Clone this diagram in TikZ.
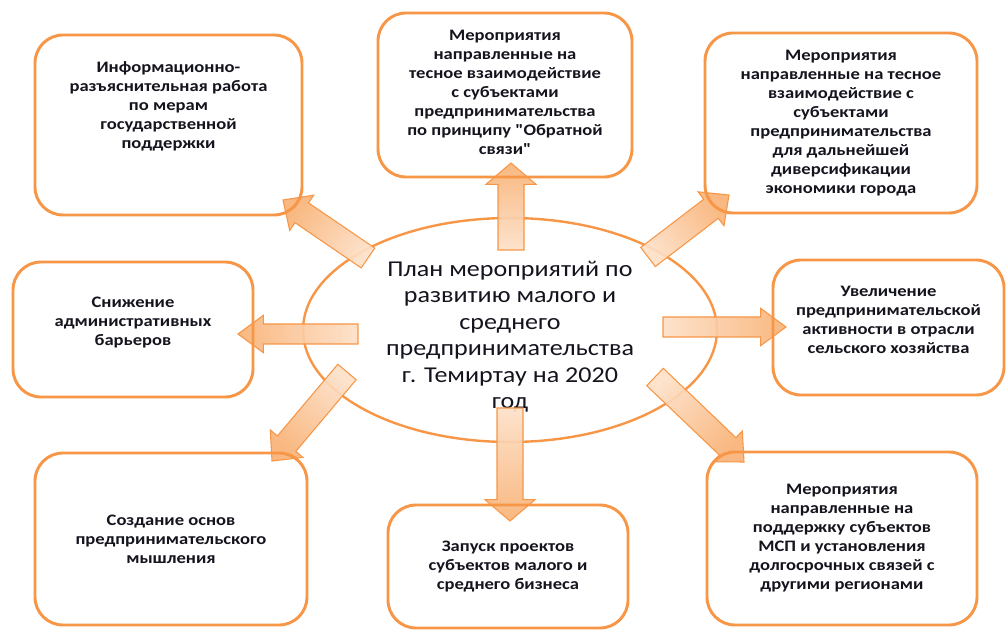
\documentclass[tikz,border=0pt]{standalone}
\usepackage{fontspec}
\setmainfont{Carlito}
\newfontfamily\boxfont{Carlito}[FakeStretch=1.16]
\newfontfamily\planfont{Carlito}[FakeStretch=1.15]
\usetikzlibrary{calc,shapes.geometric}

\definecolor{planOrange}{RGB}{247,150,70}
\definecolor{arrowHead}{RGB}{249,178,118}
\definecolor{arrowTail}{RGB}{253,224,200}
\definecolor{textDark}{RGB}{20,20,30}

\begin{document}
\begin{tikzpicture}[
        % координаты в пикселях, ось y вниз
        x=0.75pt, y=-0.75pt,
        box/.style={draw=planOrange, line width=2.2pt, rounded corners=21pt, inner sep=0pt},
        boxText/.style={align=center, text=textDark, font={\boxfont\bfseries\fontsize{12}{14.25}\selectfont}},
        plan/.style={ellipse, draw=planOrange, line width=1.8pt, inner sep=0pt},
        planText/.style={align=center, text=textDark, font={\planfont\fontsize{17}{19.9}\selectfont}},
        blockArrow/.style={draw=planOrange, line width=0.8pt, top color=arrowHead, bottom color=arrowTail, fill opacity=0.92}
    ]

        % --- параметры ---
        \def\px{0.75pt}
        % стрелка-блок: полуширина стержня, полуширина головки, длина головки, откуда, куда
        \def\blockArrowDraw#1#2#3#4#5{%
            \path let \p1=($(#5)-(#4)$), \n1={atan2(\y1,\x1)-90} in \pgfextra{\xdef\arrAngle{\n1}};
            \coordinate (hb) at ($(#5)!#3!(#4)$);
            \draw[blockArrow, shading angle=\arrAngle]
                ($(#4)!#1!90:(#5)$) -- ($(hb)!#1!90:(#5)$) -- ($(hb)!#2!90:(#5)$) -- (#5)
                -- ($(hb)!#2!-90:(#5)$) -- ($(hb)!#1!-90:(#5)$) -- ($(#4)!#1!-90:(#5)$) -- cycle;
        }

        \useasboundingbox (0,0) rectangle (1006,634);

        % --- 1. центральный эллипс ---
        \node[plan, minimum width=414*\px, minimum height=224*\px] (plan) at (510,330) {};
        \node[planText] (planT) at ([yshift=-5pt]plan.center) {План мероприятий по\\развитию малого и\\среднего\\предпринимательства\\г. Темиртау на 2020\\год};

        % --- 2. стрелки ---
        \coordinate (upS) at (511,250);  \coordinate (upE) at (511,163);
        \coordinate (dnS) at (510,408);  \coordinate (dnE) at (510,521);
        \coordinate (rtS) at (663,327);  \coordinate (rtE) at (786,327);
        \coordinate (ltS) at (358,334);  \coordinate (ltE) at (238,334);
        \coordinate (ulS) at (368,258);  \coordinate (ulE) at (283,200);
        \coordinate (urS) at (648,257);  \coordinate (urE) at (729,195);
        \coordinate (llS) at (347,372);  \coordinate (llE) at (272,461);
        \coordinate (lrS) at (655,377);  \coordinate (lrE) at (744,462);

        \blockArrowDraw{9.75pt}{18.75pt}{16pt}{upS}{upE}
        \blockArrowDraw{9.75pt}{18.75pt}{16pt}{dnS}{dnE}
        \blockArrowDraw{7.5pt}{14pt}{19pt}{rtS}{rtE}
        \blockArrowDraw{7.5pt}{14pt}{19pt}{ltS}{ltE}
        \blockArrowDraw{9pt}{16pt}{17pt}{ulS}{ulE}
        \blockArrowDraw{9pt}{16pt}{17pt}{urS}{urE}
        \blockArrowDraw{9pt}{16pt}{17pt}{llS}{llE}
        \blockArrowDraw{9pt}{16pt}{17pt}{lrS}{lrE}

        % --- 3. блоки мероприятий ---
        \node[box, minimum width=267*\px, minimum height=180*\px] (tl) at (168.5,125) {};
        \node[box, minimum width=254*\px, minimum height=164*\px] (tc) at (505,95) {};
        \node[box, minimum width=272*\px, minimum height=180*\px] (tr) at (841,123) {};
        \node[box, minimum width=240*\px, minimum height=135*\px] (lm) at (133,329.5) {};
        \node[box, minimum width=231*\px, minimum height=135*\px] (rm) at (888.5,327.5) {};
        \node[box, minimum width=272*\px, minimum height=172*\px] (bl) at (171,539) {};
        \node[box, minimum width=240*\px, minimum height=123*\px] (bc) at (508,566.5) {};
        \node[box, minimum width=270*\px, minimum height=173*\px] (br) at (842,538.5) {};

        % --- 4. тексты блоков ---
        \node[boxText] (tlT) at ([yshift=14pt]tl.center) {Информационно-\\разъяснительная работа\\по мерам\\государственной\\поддержки};
        \node[boxText] (tcT) at ([yshift=2pt]tc.center) {Мероприятия\\направленные на\\тесное взаимодействие\\с субъектами\\предпринимательства\\по принципу "Обратной\\связи"};
        \node[boxText] (trT) at (tr.center) {Мероприятия\\направленные на тесное\\взаимодействие с\\субъектами\\предпринимательства\\для дальнейшей\\диверсификации\\экономики города};
        \node[boxText] (lmT) at ([yshift=5pt]lm.center) {Снижение\\административных\\барьеров};
        \node[boxText] (rmT) at ([yshift=6pt]rm.center) {Увеличение\\предпринимательской\\активности в отрасли\\сельского хозяйства};
        \node[boxText] (blT) at (bl.center) {Создание основ\\предпринимательского\\мышления};
        \node[boxText] (bcT) at (bc.center) {Запуск проектов\\субъектов малого и\\среднего бизнеса};
        \node[boxText] (brT) at (br.center) {Мероприятия\\направленные на\\поддержку субъектов\\МСП и установления\\долгосрочных связей с\\другими регионами};

    \end{tikzpicture}
\end{document}
